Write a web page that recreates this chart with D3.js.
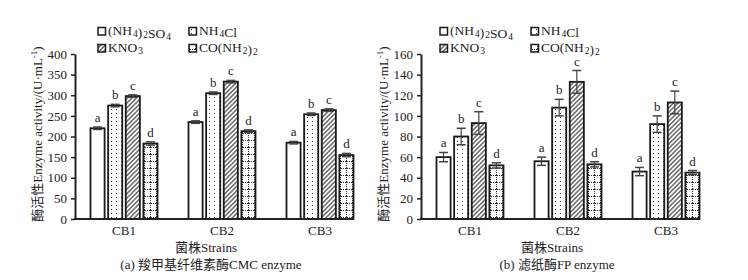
<!DOCTYPE html>
<html>
<head>
<meta charset="utf-8">
<script src="https://cdn.jsdelivr.net/npm/d3@7"></script>
<style>
  body { margin: 0; background: #fff; }
  svg text { font-family: "Liberation Serif", "Noto Sans CJK SC", serif; fill: #222; }
</style>
</head>
<body>
<div id="chart"></div>
<script>
// data
const strains = ["CB1", "CB2", "CB3"];
const sources = ["(NH4)2SO4", "NH4Cl", "KNO3", "CO(NH2)2"];
const letters = ["a", "b", "c", "d"];

// (a) CMC enzyme, rows = strains, columns = nitrogen sources
const cmcValues = [
  [220, 275, 298, 183],
  [235, 305, 333, 213],
  [185, 254, 264, 155]
];
const cmcErrors = [
  [3, 3, 3, 4],
  [3, 3, 3, 3],
  [3, 3, 3, 4]
];
const cmcTicks = [0, 50, 100, 150, 200, 250, 300, 350, 400];

// (b) FP enzyme
const fpValues = [
  [60, 80, 93, 52],
  [56, 108, 133, 53],
  [46, 92, 113, 45]
];
const fpErrors = [
  [4.5, 8, 11, 2.5],
  [4, 8, 11, 2.5],
  [4, 8, 11, 2]
];
const fpTicks = [0, 20, 40, 60, 80, 100, 120, 140, 160];

const W = 748, H = 280;
const svg = d3.select("#chart").append("svg")
  .attr("width", W).attr("height", H);

// fill patterns for the four series
const defs = svg.append("defs");

const pDots = defs.append("pattern").attr("id", "p-dots")
  .attr("patternUnits", "userSpaceOnUse").attr("width", 5).attr("height", 4);
pDots.append("rect").attr("width", 5).attr("height", 4).attr("fill", "#fff");
pDots.append("rect").attr("x", 1).attr("y", 1).attr("width", 1).attr("height", 1).attr("fill", "#333");

const pHatch = defs.append("pattern").attr("id", "p-hatch")
  .attr("patternUnits", "userSpaceOnUse").attr("width", 3.2).attr("height", 3.2)
  .attr("patternTransform", "rotate(45)");
pHatch.append("rect").attr("width", 3.2).attr("height", 3.2).attr("fill", "#fff");
pHatch.append("line").attr("x1", 0.8).attr("y1", 0).attr("x2", 0.8).attr("y2", 3.2)
  .attr("stroke", "#333").attr("stroke-width", 1.1);

const pGrid = defs.append("pattern").attr("id", "p-grid")
  .attr("patternUnits", "userSpaceOnUse").attr("width", 6).attr("height", 7);
pGrid.append("rect").attr("width", 6).attr("height", 7).attr("fill", "#fff");
pGrid.append("line").attr("x1", 0).attr("y1", 0.5).attr("x2", 6).attr("y2", 0.5)
  .attr("stroke", "#333").attr("stroke-width", 1).attr("stroke-dasharray", "1,1");
pGrid.append("line").attr("x1", 3.5).attr("y1", 0).attr("x2", 3.5).attr("y2", 7)
  .attr("stroke", "#333").attr("stroke-width", 1).attr("stroke-dasharray", "1,1");

const fills = ["#fff", "url(#p-dots)", "url(#p-hatch)", "url(#p-grid)"];

// writes chemical formula with digits as subscripts
function formula(sel, str) {
  str.split(/(\d)/).filter(s => s !== "").forEach(part => {
    if (/\d/.test(part)) {
      sel.append("tspan").attr("font-size", 9.5).attr("dx", 1).attr("dy", 1.5).text(part);
      sel.append("tspan").attr("dx", 1).attr("dy", -1.5).text("");
    } else {
      sel.append("tspan").text(part);
    }
  });
}

function drawPanel(opt) {
  const g = svg.append("g");

  const y = d3.scaleLinear().domain([0, opt.ticks[opt.ticks.length - 1]]).range([219, 54]);

  const x0 = d3.scaleBand().domain(strains).range([opt.left, opt.left + 294]);
  const x1 = d3.scaleBand().domain(sources)
    .range([15.5, 82.5]).paddingInner(0.2).paddingOuter(0);

  // bars
  const groups = g.selectAll(".grp").data(strains).enter().append("g")
    .attr("transform", d => "translate(" + x0(d) + ",0)");

  groups.each(function (s, i) {
    const grp = d3.select(this);
    sources.forEach((src, j) => {
      const v = opt.values[i][j], e = opt.errors[i][j];
      const bx = x1(src), bw = x1.bandwidth();
      grp.append("rect")
        .attr("x", bx).attr("y", y(v))
        .attr("width", bw).attr("height", y(0) - y(v))
        .attr("fill", fills[j])
        .attr("stroke", "#1a1a1a").attr("stroke-width", 1.8);

      // error bar
      const cx = bx + bw / 2;
      grp.append("line").attr("x1", cx).attr("x2", cx)
        .attr("y1", y(v - e)).attr("y2", y(v + e))
        .attr("stroke", "#444").attr("stroke-width", 1.2);
      [v - e, v + e].forEach(t => {
        grp.append("line").attr("x1", cx - 4.5).attr("x2", cx + 4.5)
          .attr("y1", y(t)).attr("y2", y(t))
          .attr("stroke", "#444").attr("stroke-width", 1.5);
      });

      grp.append("text")
        .attr("x", cx).attr("y", y(v + e) - 5)
        .attr("text-anchor", "middle")
        .attr("font-size", 13)
        .text(letters[j]);
    });
  });

  // y axis
  const yAxis = g.append("g")
    .attr("transform", "translate(" + opt.left + ",0)")
    .call(d3.axisLeft(y).tickValues(opt.ticks).tickSize(4).tickPadding(4).tickSizeOuter(0));
  yAxis.select(".domain").attr("stroke", "#222").attr("stroke-width", 2);
  yAxis.selectAll(".tick line").attr("stroke", "#222").attr("stroke-width", 1.5);
  yAxis.selectAll(".tick text")
    .style("font-family", '"Liberation Serif", serif')
    .attr("font-size", 13).attr("fill", "#222");

  // x axis (no ticks, line stops at last bar)
  const xAxis = g.append("g")
    .attr("transform", "translate(0," + y(0) + ")")
    .call(d3.axisBottom(x0).tickSize(0).tickPadding(7));
  xAxis.select(".domain").remove();
  xAxis.append("line")
    .attr("x1", opt.left - 1).attr("x2", opt.left + 279)
    .attr("stroke", "#222").attr("stroke-width", 2);
  xAxis.selectAll(".tick text")
    .style("font-family", '"Liberation Serif", serif')
    .attr("font-size", 13).attr("fill", "#222");

  // axis titles
  const yt = g.append("text")
    .attr("transform", "translate(" + (opt.left - 33) + ",134) rotate(-90)")
    .attr("text-anchor", "middle")
    .attr("font-size", 13);
  yt.append("tspan").text("酶活性Enzyme activity/(U·mL");
  yt.append("tspan").attr("font-size", 9).attr("dy", -5).text("-1");
  yt.append("tspan").attr("dy", 5).text(")");

  g.append("text")
    .attr("x", opt.left + 131).attr("y", 252)
    .attr("text-anchor", "middle").attr("font-size", 13)
    .text("菌株Strains");

  g.append("text")
    .attr("x", opt.left + 136).attr("y", 269)
    .attr("text-anchor", "middle").attr("font-size", 13)
    .text(opt.caption);

  // legend 2x2
  sources.forEach((src, j) => {
    const lx = opt.legendX[j % 2], ly = j < 2 ? 35 : 52;
    g.append("rect")
      .attr("x", lx).attr("y", ly - 7.5)
      .attr("width", 7.5).attr("height", 7.5)
      .attr("fill", fills[j]).attr("stroke", "#1a1a1a").attr("stroke-width", 1.5);
    const t = g.append("text")
      .attr("x", lx + 10).attr("y", ly)
      .attr("font-size", 13.5);
    formula(t, src);
  });
}

drawPanel({
  left: 75,
  values: cmcValues,
  errors: cmcErrors,
  ticks: cmcTicks,
  caption: "(a) 羧甲基纤维素酶CMC enzyme",
  legendX: [98, 189]
});

drawPanel({
  left: 421,
  values: fpValues,
  errors: fpErrors,
  ticks: fpTicks,
  caption: "(b) 滤纸酶FP enzyme",
  legendX: [440, 531]
});
</script>
</body>
</html>
